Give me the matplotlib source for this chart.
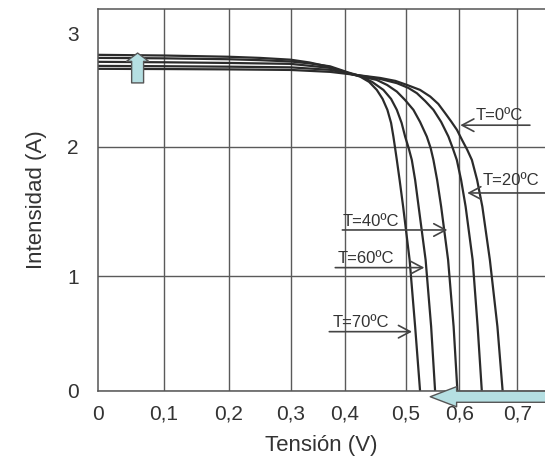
import numpy as np
import matplotlib
matplotlib.use("Agg")
import matplotlib.pyplot as plt

plt.rcParams['font.family'] = ['Liberation Sans', 'DejaVu Sans']

# curvas I-V de una celula solar a varias temperaturas
temps = ["T=0ºC", "T=20ºC", "T=40ºC", "T=60ºC", "T=70ºC"]

v_0 = [0, 0.1, 0.2, 0.3, 0.3725, 0.418, 0.458, 0.483, 0.502, 0.527, 0.546, 0.561, 0.574, 0.585,
       0.596, 0.605, 0.614, 0.622, 0.631, 0.640, 0.653, 0.666, 0.675]
i_0 = [2.69, 2.688, 2.685, 2.68, 2.663, 2.636, 2.609, 2.583, 2.548, 2.503, 2.444, 2.379, 2.296, 2.224,
       2.148, 2.059, 1.975, 1.897, 1.743, 1.538, 1.127, 0.562, 0]

v_20 = [0, 0.1, 0.2, 0.3, 0.3725, 0.418, 0.458, 0.4855, 0.505, 0.521, 0.5364, 0.552, 0.5664, 0.580,
        0.5879, 0.5957, 0.6034, 0.6112, 0.6233, 0.6319, 0.6391]
i_20 = [2.716, 2.713, 2.709, 2.703, 2.681, 2.636, 2.60, 2.563, 2.521, 2.474, 2.405, 2.326, 2.219, 2.089,
        1.99, 1.897, 1.743, 1.538, 1.127, 0.562, 0]

v_40 = [0, 0.1, 0.2, 0.3, 0.3725, 0.408, 0.433, 0.452, 0.4694, 0.4855, 0.499, 0.5146, 0.527, 0.5396,
        0.5467, 0.552, 0.5589, 0.5664, 0.5794, 0.5897, 0.5968]
i_40 = [2.752, 2.748, 2.742, 2.734, 2.698, 2.645, 2.614, 2.592, 2.547, 2.488, 2.414, 2.326, 2.219, 2.089,
        1.99, 1.897, 1.743, 1.538, 1.127, 0.562, 0]

v_60 = [0, 0.1, 0.2, 0.25, 0.3, 0.335, 0.3725, 0.405, 0.4248, 0.4446, 0.4633, 0.476, 0.4855, 0.4934,
        0.4992, 0.5056, 0.5116, 0.5178, 0.5243, 0.5374, 0.5477, 0.5551]
i_60 = [2.787, 2.783, 2.775, 2.767, 2.755, 2.738, 2.712, 2.658, 2.627, 2.574, 2.503, 2.423, 2.326, 2.21,
        2.089, 1.99, 1.897, 1.743, 1.538, 1.127, 0.562, 0]

v_70 = [0, 0.1, 0.2, 0.25, 0.3, 0.335, 0.3688, 0.405, 0.4248, 0.4397, 0.4524, 0.462, 0.4699, 0.476,
        0.4798, 0.4826, 0.4855, 0.4901, 0.4959, 0.5075, 0.5178, 0.527]
i_70 = [2.814, 2.808, 2.797, 2.787, 2.771, 2.746, 2.71, 2.654, 2.621, 2.574, 2.503, 2.423, 2.326, 2.21,
        2.089, 1.99, 1.897, 1.743, 1.538, 1.127, 0.562, 0]

x_ticks = [0, 0.1, 0.2, 0.3, 0.4, 0.5, 0.6, 0.7]
x_labels = ["0", "0,1", "0,2", "0,3", "0,4", "0,5", "0,6", "0,7"]
y_ticks = [0, 1, 2, 3]

# la rejilla del original no es regular: escala a trozos
x_knots = [-1, 0, 0.1, 0.2, 0.3, 0.4, 0.5, 0.6, 0.7, 1.7]
x_pix = [-980, 0, 66, 130.5, 192.5, 247, 307.5, 361, 419, 999]
y_knots = [-1, 0, 1, 2, 3, 4]
y_pix = [-114.5, 0, 114.5, 244.3, 357, 470]


def fx(v):
    return np.interp(v, x_knots, x_pix)


def fx_inv(p):
    return np.interp(p, x_pix, x_knots)


def fy(v):
    return np.interp(v, y_knots, y_pix)


def fy_inv(p):
    return np.interp(p, y_pix, y_knots)


fig = plt.figure(figsize=(5.45, 4.62), dpi=100)
ax = fig.add_axes([98 / 545, 71 / 462, 447 / 545, 382 / 462])
ax.set_xscale('function', functions=(fx, fx_inv))
ax.set_yscale('function', functions=(fy, fy_inv))

line_col = "#2b2b2b"
for v, i in [(v_0, i_0), (v_20, i_20), (v_40, i_40), (v_60, i_60), (v_70, i_70)]:
    ax.plot(v, i, color=line_col, lw=1.6, solid_joinstyle='round')

ax.set_xlim(0, 0.748)
ax.set_ylim(0, 3.22)
ax.set_xticks(x_ticks)
ax.set_xticklabels(x_labels)
ax.set_yticks(y_ticks)
ax.minorticks_off()
ax.tick_params(length=0, labelsize=15, labelcolor="#333333")
ax.tick_params(axis='x', pad=10)
ax.tick_params(axis='y', pad=14)
ax.grid(True, color="#5a5a5a", lw=1.0)
ax.yaxis.get_gridlines()[3].set_visible(False)
ax.xaxis.get_gridlines()[0].set_visible(False)
for s in ['left', 'bottom', 'top']:
    ax.spines[s].set_color("#555555")
    ax.spines[s].set_linewidth(1.1)
ax.spines['right'].set_visible(False)

ax.set_xlabel("Tensión (V)", fontsize=16, color="#333333", labelpad=8)
ax.set_ylabel("Intensidad (A)", fontsize=16, color="#333333", labelpad=14)

# etiquetas de temperatura con flecha
arrow_kw = dict(arrowstyle="->,head_length=0.85,head_width=0.45", color="#444444",
                lw=1.2, shrinkA=0, shrinkB=0, mutation_scale=10)
labels = [
    (temps[0], (0.602, 2.19), (0.722, 2.19), (0.628, 2.28)),
    (temps[1], (0.614, 1.643), (0.748, 1.643), (0.641, 1.74)),
    (temps[2], (0.578, 1.358), (0.395, 1.358), (0.396, 1.42)),
    (temps[3], (0.535, 1.068), (0.382, 1.068), (0.387, 1.14)),
    (temps[4], (0.512, 0.518), (0.371, 0.518), (0.378, 0.60)),
]
for txt, tip, tail, pos in labels:
    ax.annotate("", xy=tip, xytext=tail, arrowprops=arrow_kw, annotation_clip=False)
    ax.text(pos[0], pos[1], txt, fontsize=12, color="#333333", va='center', ha='left')

# flechas azules (Isc sube, Voc baja)
blue_kw = dict(fc="#b5dfe2", ec="#555555", lw=1.0, shrinkA=0, shrinkB=0, mutation_scale=1)
ax.annotate("", xy=(0.06, 2.83), xytext=(0.06, 2.565),
            arrowprops=dict(arrowstyle="simple,head_length=6,head_width=16,tail_width=8.6", **blue_kw),
            annotation_clip=False)
ax.annotate("", xy=(0.546, -0.05), xytext=(0.76, -0.05),
            arrowprops=dict(arrowstyle="simple,head_length=19,head_width=14.5,tail_width=8", **blue_kw),
            annotation_clip=False)

fig.savefig("out.png", dpi=100)
